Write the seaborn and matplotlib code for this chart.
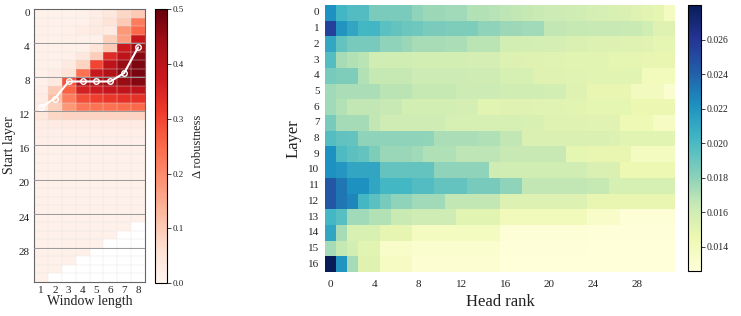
import numpy as np
import pandas as pd
import matplotlib
matplotlib.use('Agg')
import matplotlib.pyplot as plt
import seaborn as sns

nan = np.nan

# Left panel: delta robustness per (start layer, window length)
window_lengths = [1, 2, 3, 4, 5, 6, 7, 8]
start_layers = list(range(32))
delta_robustness = [
    [0.010, 0.010, 0.010, 0.012, 0.025, 0.040, 0.080, 0.100],
    [0.012, 0.012, 0.012, 0.015, 0.030, 0.055, 0.100, 0.220],
    [0.012, 0.012, 0.015, 0.025, 0.035, 0.030, 0.180, 0.250],
    [0.012, 0.012, 0.015, 0.015, 0.012, 0.090, 0.170, 0.380],
    [0.012, 0.015, 0.015, 0.012, 0.050, 0.100, 0.375, 0.440],
    [0.012, 0.015, 0.015, 0.040, 0.095, 0.340, 0.400, 0.465],
    [0.012, 0.015, 0.035, 0.085, 0.300, 0.400, 0.450, 0.475],
    [0.012, 0.025, 0.050, 0.240, 0.380, 0.420, 0.470, 0.480],
    [0.015, 0.035, 0.280, 0.420, 0.430, 0.440, 0.450, 0.470],
    [0.020, 0.100, 0.260, 0.360, 0.370, 0.385, 0.395, 0.400],
    [0.025, 0.120, 0.220, 0.290, 0.310, 0.320, 0.330, 0.330],
    [0.030, 0.090, 0.180, 0.230, 0.235, 0.240, 0.245, 0.250],
    [0.040, 0.080, 0.085, 0.085, 0.085, 0.085, 0.085, 0.085],
    [0.025, 0.030, 0.030, 0.030, 0.030, 0.030, 0.030, 0.030],
    [0.020, 0.020, 0.020, 0.020, 0.020, 0.020, 0.020, 0.020],
    [0.018, 0.018, 0.018, 0.018, 0.018, 0.018, 0.018, 0.018],
    [0.015, 0.015, 0.015, 0.015, 0.015, 0.015, 0.015, 0.015],
    [0.015, 0.015, 0.015, 0.015, 0.015, 0.015, 0.015, 0.015],
    [0.015, 0.015, 0.015, 0.015, 0.015, 0.015, 0.015, 0.015],
    [0.015, 0.015, 0.015, 0.015, 0.015, 0.015, 0.015, 0.015],
    [0.015, 0.015, 0.015, 0.015, 0.015, 0.015, 0.015, 0.015],
    [0.015, 0.015, 0.015, 0.015, 0.015, 0.015, 0.015, 0.015],
    [0.015, 0.015, 0.015, 0.015, 0.015, 0.015, 0.015, 0.015],
    [0.015, 0.015, 0.015, 0.015, 0.015, 0.015, 0.015, 0.015],
    [0.015, 0.015, 0.015, 0.015, 0.015, 0.015, 0.015, 0.015],
    [0.015, 0.015, 0.015, 0.015, 0.015, 0.015, 0.015, nan],
    [0.015, 0.015, 0.015, 0.015, 0.015, 0.015, nan, nan],
    [0.015, 0.015, 0.015, 0.015, 0.015, nan, nan, nan],
    [0.015, 0.015, 0.015, 0.015, nan, nan, nan, nan],
    [0.015, 0.015, 0.015, nan, nan, nan, nan, nan],
    [0.015, 0.015, nan, nan, nan, nan, nan, nan],
    [0.015, nan, nan, nan, nan, nan, nan, nan],
]
best_start_layer = [11, 10, 8, 8, 8, 8, 7, 4]

# Right panel: attention mass per (layer, head rank)
layers = list(range(17))
head_ranks = list(range(32))
head_scores = [
    [0.0222, 0.0203, 0.0198, 0.0198, 0.0185, 0.0185, 0.0185, 0.0185, 0.0180, 0.0176, 0.0176, 0.0175, 0.0175, 0.0170, 0.0170, 0.0169,
     0.0167, 0.0166, 0.0165, 0.0163, 0.0162, 0.0162, 0.0161, 0.0160, 0.0158, 0.0157, 0.0156, 0.0155, 0.0153, 0.0151, 0.0150, 0.0138],
    [0.0255, 0.0220, 0.0212, 0.0202, 0.0203, 0.0195, 0.0192, 0.0190, 0.0189, 0.0185, 0.0185, 0.0184, 0.0184, 0.0184, 0.0180, 0.0180,
     0.0176, 0.0176, 0.0175, 0.0175, 0.0166, 0.0166, 0.0165, 0.0165, 0.0164, 0.0164, 0.0164, 0.0163, 0.0163, 0.0160, 0.0153, 0.0153],
    [0.0211, 0.0192, 0.0186, 0.0186, 0.0186, 0.0180, 0.0180, 0.0177, 0.0173, 0.0173, 0.0173, 0.0172, 0.0172, 0.0168, 0.0168, 0.0168,
     0.0159, 0.0159, 0.0159, 0.0158, 0.0158, 0.0158, 0.0155, 0.0155, 0.0154, 0.0154, 0.0154, 0.0153, 0.0153, 0.0152, 0.0150, 0.0150],
    [0.0197, 0.0173, 0.0170, 0.0168, 0.0160, 0.0160, 0.0160, 0.0160, 0.0159, 0.0159, 0.0159, 0.0159, 0.0159, 0.0158, 0.0158, 0.0158,
     0.0154, 0.0154, 0.0153, 0.0153, 0.0152, 0.0152, 0.0151, 0.0151, 0.0151, 0.0151, 0.0150, 0.0150, 0.0150, 0.0148, 0.0148, 0.0148],
    [0.0186, 0.0184, 0.0184, 0.0170, 0.0165, 0.0165, 0.0165, 0.0165, 0.0162, 0.0162, 0.0162, 0.0162, 0.0162, 0.0161, 0.0161, 0.0161,
     0.0157, 0.0157, 0.0157, 0.0153, 0.0153, 0.0153, 0.0152, 0.0152, 0.0151, 0.0151, 0.0151, 0.0151, 0.0151, 0.0140, 0.0140, 0.0140],
    [0.0175, 0.0172, 0.0172, 0.0172, 0.0172, 0.0168, 0.0168, 0.0168, 0.0165, 0.0165, 0.0165, 0.0165, 0.0162, 0.0162, 0.0162, 0.0162,
     0.0160, 0.0160, 0.0160, 0.0160, 0.0159, 0.0159, 0.0153, 0.0153, 0.0148, 0.0148, 0.0148, 0.0148, 0.0139, 0.0139, 0.0139, 0.0131],
    [0.0175, 0.0170, 0.0166, 0.0166, 0.0166, 0.0164, 0.0164, 0.0159, 0.0159, 0.0159, 0.0159, 0.0159, 0.0158, 0.0158, 0.0151, 0.0151,
     0.0153, 0.0153, 0.0153, 0.0152, 0.0152, 0.0152, 0.0151, 0.0151, 0.0150, 0.0150, 0.0150, 0.0150, 0.0146, 0.0146, 0.0146, 0.0146],
    [0.0186, 0.0174, 0.0174, 0.0174, 0.0166, 0.0161, 0.0161, 0.0161, 0.0161, 0.0161, 0.0161, 0.0157, 0.0157, 0.0157, 0.0157, 0.0157,
     0.0157, 0.0157, 0.0156, 0.0156, 0.0153, 0.0153, 0.0153, 0.0153, 0.0152, 0.0152, 0.0152, 0.0143, 0.0143, 0.0143, 0.0137, 0.0137],
    [0.0197, 0.0193, 0.0192, 0.0180, 0.0180, 0.0180, 0.0180, 0.0180, 0.0180, 0.0179, 0.0172, 0.0172, 0.0172, 0.0172, 0.0171, 0.0171,
     0.0166, 0.0166, 0.0155, 0.0155, 0.0155, 0.0155, 0.0155, 0.0155, 0.0155, 0.0155, 0.0154, 0.0151, 0.0151, 0.0151, 0.0151, 0.0151],
    [0.0222, 0.0199, 0.0194, 0.0192, 0.0184, 0.0177, 0.0177, 0.0177, 0.0175, 0.0171, 0.0171, 0.0171, 0.0167, 0.0167, 0.0167, 0.0167,
     0.0164, 0.0164, 0.0164, 0.0164, 0.0164, 0.0164, 0.0150, 0.0150, 0.0148, 0.0148, 0.0148, 0.0148, 0.0138, 0.0138, 0.0138, 0.0138],
    [0.0222, 0.0219, 0.0212, 0.0212, 0.0212, 0.0192, 0.0192, 0.0192, 0.0192, 0.0192, 0.0180, 0.0180, 0.0180, 0.0180, 0.0180, 0.0161,
     0.0160, 0.0160, 0.0160, 0.0160, 0.0160, 0.0160, 0.0160, 0.0160, 0.0155, 0.0155, 0.0155, 0.0145, 0.0145, 0.0145, 0.0145, 0.0145],
    [0.0245, 0.0233, 0.0222, 0.0222, 0.0212, 0.0202, 0.0202, 0.0202, 0.0198, 0.0198, 0.0192, 0.0192, 0.0192, 0.0186, 0.0186, 0.0186,
     0.0180, 0.0180, 0.0166, 0.0166, 0.0166, 0.0166, 0.0166, 0.0166, 0.0165, 0.0165, 0.0157, 0.0157, 0.0157, 0.0157, 0.0157, 0.0157],
    [0.0245, 0.0233, 0.0226, 0.0202, 0.0194, 0.0186, 0.0180, 0.0180, 0.0175, 0.0175, 0.0175, 0.0166, 0.0166, 0.0166, 0.0166, 0.0166,
     0.0154, 0.0154, 0.0154, 0.0154, 0.0154, 0.0154, 0.0154, 0.0154, 0.0148, 0.0148, 0.0148, 0.0148, 0.0148, 0.0148, 0.0148, 0.0148],
    [0.0202, 0.0196, 0.0175, 0.0175, 0.0170, 0.0170, 0.0163, 0.0163, 0.0161, 0.0161, 0.0161, 0.0161, 0.0151, 0.0151, 0.0151, 0.0151,
     0.0141, 0.0141, 0.0141, 0.0141, 0.0141, 0.0141, 0.0141, 0.0141, 0.0134, 0.0134, 0.0134, 0.0128, 0.0128, 0.0128, 0.0128, 0.0128],
    [0.0212, 0.0173, 0.0156, 0.0156, 0.0156, 0.0149, 0.0149, 0.0149, 0.0138, 0.0138, 0.0138, 0.0138, 0.0138, 0.0138, 0.0138, 0.0138,
     0.0128, 0.0128, 0.0128, 0.0128, 0.0128, 0.0128, 0.0128, 0.0128, 0.0127, 0.0127, 0.0127, 0.0127, 0.0127, 0.0127, 0.0127, 0.0127],
    [0.0174, 0.0165, 0.0159, 0.0151, 0.0151, 0.0134, 0.0134, 0.0134, 0.0132, 0.0132, 0.0132, 0.0132, 0.0132, 0.0132, 0.0132, 0.0132,
     0.0127, 0.0127, 0.0127, 0.0127, 0.0127, 0.0127, 0.0127, 0.0127, 0.0126, 0.0126, 0.0126, 0.0126, 0.0126, 0.0126, 0.0126, 0.0126],
    [0.0280, 0.0220, 0.0174, 0.0153, 0.0153, 0.0137, 0.0137, 0.0137, 0.0130, 0.0130, 0.0130, 0.0130, 0.0130, 0.0130, 0.0130, 0.0130,
     0.0126, 0.0126, 0.0126, 0.0126, 0.0126, 0.0126, 0.0126, 0.0126, 0.0126, 0.0126, 0.0126, 0.0126, 0.0126, 0.0126, 0.0126, 0.0126],
]

sns.set_style('white')
plt.rcParams['font.family'] = ['Liberation Serif', 'DejaVu Serif']
text_col = '#222222'

fig = plt.figure(figsize=(7.41, 3.16), dpi=100)
ax1 = fig.add_axes([0.0459, 0.1076, 0.1498, 0.864])
cax1 = fig.add_axes([0.209, 0.104, 0.0162, 0.867])
ax2 = fig.add_axes([0.4386, 0.139, 0.4723, 0.845])
cax2 = fig.add_axes([0.9285, 0.142, 0.0175, 0.842])

# left heatmap
df_left = pd.DataFrame(delta_robustness, index=start_layers, columns=window_lengths)
sns.heatmap(df_left, ax=ax1, cbar_ax=cax1, cmap='Reds', vmin=0, vmax=0.5,
            xticklabels=window_lengths, yticklabels=4)
n_rows, n_cols = df_left.shape
for y in range(1, n_rows):
    ax1.axhline(y, color='#e2e2e2', lw=0.35, alpha=0.8, zorder=2)
for x in range(1, n_cols):
    ax1.axvline(x, color='#e2e2e2', lw=0.35, alpha=0.8, zorder=2)
for y in range(4, n_rows, 4):
    ax1.axhline(y, color='#999999', lw=0.7, zorder=3)
xs = np.arange(n_cols) + 0.5
ax1.plot(xs, np.array(best_start_layer) + 0.5, color='white', lw=1.5,
         marker='o', ms=4, mfc='none', mec='white', mew=1.0, zorder=5)
for s in ax1.spines.values():
    s.set_visible(True)
    s.set_color('#666666')
    s.set_linewidth(0.8)
ax1.tick_params(axis='both', length=2, width=0.6, labelsize=8, colors=text_col, pad=1)
ax1.tick_params(axis='y', rotation=0)
ax1.tick_params(axis='x', rotation=0)
ax1.set_xlabel('Window length', fontsize=10, color=text_col, labelpad=0)
ax1.set_ylabel('Start layer', fontsize=10, color=text_col, labelpad=2)

cb1 = ax1.collections[0].colorbar
cb1.set_ticks([0.0, 0.1, 0.2, 0.3, 0.4, 0.5])
cb1.ax.tick_params(labelsize=6.5, length=3, width=0.6, colors=text_col, pad=1)
cb1.outline.set_visible(True)
cb1.outline.set_edgecolor('black')
cb1.outline.set_linewidth(0.8)
cb1.set_label('Δ robustness', fontsize=9, color=text_col, labelpad=6)

# right heatmap
df_right = pd.DataFrame(head_scores, index=layers, columns=head_ranks)
sns.heatmap(df_right, ax=ax2, cbar_ax=cax2, cmap='YlGnBu',
            xticklabels=4, yticklabels=layers)
ax2.tick_params(axis='both', length=0, labelsize=8, colors=text_col)
ax2.tick_params(axis='x', rotation=0, pad=6)
ax2.tick_params(axis='y', rotation=0, pad=4)
ax2.set_xlabel('Head rank', fontsize=12, color=text_col, labelpad=3)
ax2.set_ylabel('Layer', fontsize=12, color=text_col, labelpad=5)

cb2 = ax2.collections[0].colorbar
cb2.set_ticks([0.014, 0.016, 0.018, 0.020, 0.022, 0.024, 0.026])
cb2.ax.tick_params(labelsize=7, length=3, width=0.6, colors=text_col, pad=1)
cb2.outline.set_visible(True)
cb2.outline.set_edgecolor('black')
cb2.outline.set_linewidth(0.8)

fig.savefig('out.png', dpi=100)
